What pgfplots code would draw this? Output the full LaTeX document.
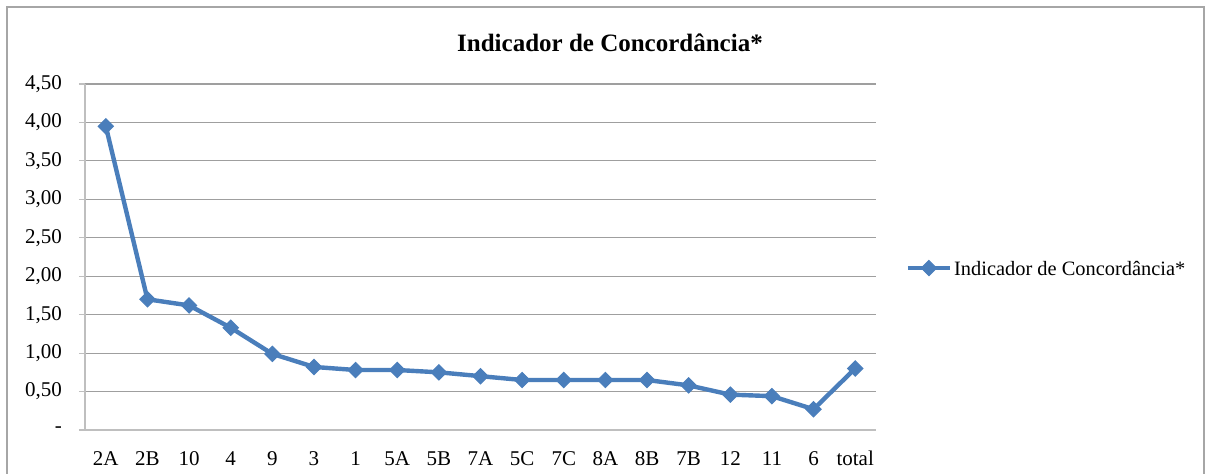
\documentclass[border=0pt]{standalone}
\usepackage{pgfplots}
\pgfplotsset{compat=1.18}
\usepackage{fontspec}
\setmainfont{Liberation Serif}
\definecolor{serie}{RGB}{74,126,187}
\begin{document}
\begin{tikzpicture}[x=0.5pt,y=0.5pt]
\useasboundingbox (0,0) rectangle (1207,474);
\draw[gray!70, line width=0.8pt] (7,-5) -- (7,467) -- (1204,467) -- (1204,-5);
\node[font=\fontsize{12.5}{14}\selectfont\bfseries] at (610,431) {Indicador de Concordância*};
\begin{axis}[
  at={(42.5pt,22pt)}, anchor=south west, scale only axis,
  width=395.5pt, height=173pt,
  xmin=-0.5, xmax=18.5, ymin=0, ymax=4.5,
  axis lines*=left,
  axis line style={gray!50, line width=0.6pt},
  xtick={0,...,18},
  xticklabels={2A,2B,10,4,9,3,1,5A,5B,7A,5C,7C,8A,8B,7B,12,11,6,total},
  minor xtick={-0.5,0.5,...,18.5},
  ytick={0,0.5,...,4.5},
  yticklabels={-,{0,50},{1,00},{1,50},{2,00},{2,50},{3,00},{3,50},{4,00},{4,50}},
  ymajorgrids, grid style={gray!75, line width=0.6pt},
  tick align=outside,
  x tick style={draw=none},
  minor x tick style={gray!50, line width=0.6pt},
  minor tick length=3pt,
  y tick style={gray!50, line width=0.6pt},
  major tick length=3pt,
  ticklabel style={font=\fontsize{10.5}{12}\selectfont},
  xticklabel style={yshift=-4pt, text height=1.6ex, text depth=0.3ex},
  yticklabel style={xshift=-5pt},
  legend style={at={(rel axis cs:1.037,0.468)}, anchor=west, draw=none, fill=none,
    inner sep=0pt, font=\fontsize{10.2}{12}\selectfont, legend cell align=left,
    /tikz/every even column/.append style={column sep=0pt}},
  legend image code/.code={\draw[mark repeat=2,mark phase=2] plot coordinates {(0cm,0cm)(0.37cm,0cm)(0.74cm,0cm)};},
  clip=false,
]
\addplot[serie, line width=2.2pt, mark=square*, mark size=2.7pt, mark options={rotate=45, solid, fill=serie, line width=0.5pt}]
coordinates {(0,3.95)(1,1.70)(2,1.62)(3,1.33)(4,0.99)(5,0.82)(6,0.78)(7,0.78)(8,0.75)(9,0.70)(10,0.65)(11,0.65)(12,0.65)(13,0.65)(14,0.58)(15,0.46)(16,0.44)(17,0.27)(18,0.80)};
\addlegendentry[text depth=0pt, inner xsep=1pt]{Indicador de Concordância*}
\end{axis}
\end{tikzpicture}
\end{document}
